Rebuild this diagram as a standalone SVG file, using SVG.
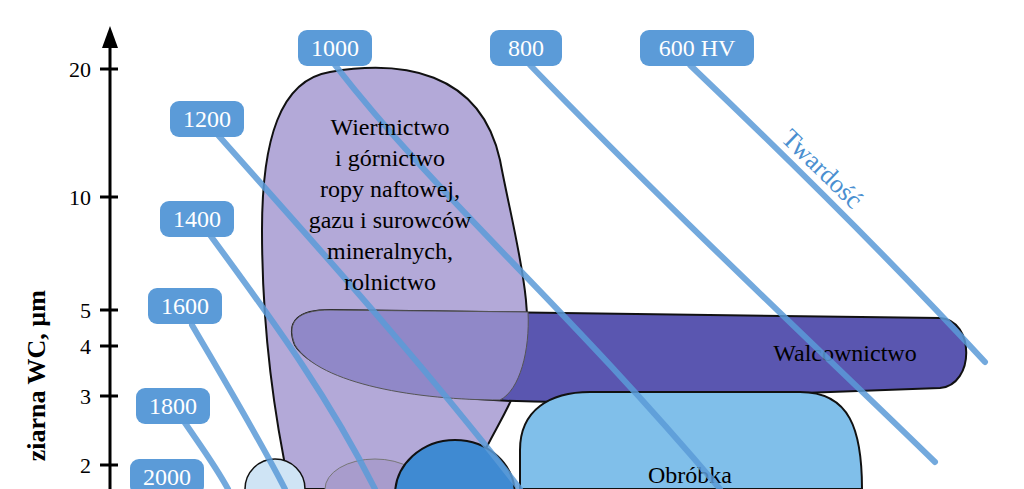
<svg xmlns="http://www.w3.org/2000/svg" width="1024" height="489" viewBox="0 0 1024 489">
<style>
.t{font-family:"Liberation Serif",serif;fill:#000}
.lab{font-family:"Liberation Serif",serif;fill:#fff;font-size:24px;text-anchor:middle}
.hv{fill:none;stroke:#5b9bd8;stroke-width:6;stroke-linecap:round}
.box{fill:#5b9bd8}
.ol{stroke:#111;stroke-width:2}
</style>
<rect width="1024" height="489" fill="#fff"/>
<g id="wiertnictwo">
<path class="ol" d="M330,72 C400,60 480,70 500,160 C515,240 540,320 520,380 C505,420 480,450 470,489 L290,489 C275,420 262,330 262,230 C262,140 280,80 330,72 Z" fill="#b3a9d8"/>
</g>
<g id="walcownictwo">
<path class="ol" d="M330,310 L940,318 C975,320 975,385 940,388 L560,402 C450,402 320,385 295,345 C285,320 300,310 330,310 Z" fill="#5a56b0"/>
<path d="M330,310 L528,312 C530,350 520,390 500,400 C420,400 320,385 295,345 C285,320 300,310 330,310 Z" fill="#9088c8" stroke="#555" stroke-width="1"/>
<text class="t" x="845" y="361" font-size="24" text-anchor="middle">Walcownictwo</text>
</g>
<g id="obrobka">
<path class="ol" d="M590,392 L800,392 C850,392 862,430 862,489 L520,489 L520,450 C520,410 550,392 590,392 Z" fill="#80bfea"/>
<text class="t" x="690" y="483" font-size="24" text-anchor="middle">Obróbka</text>
</g>
<g id="small">
<ellipse cx="275" cy="489" rx="30" ry="30" fill="#cfe4f5" stroke="#111" stroke-width="1.5"/>
<ellipse cx="375" cy="489" rx="50" ry="30" fill="#a89ccc" stroke="#777" stroke-width="1"/>
<ellipse cx="455" cy="495" rx="60" ry="55" fill="#3f8ad2" stroke="#111" stroke-width="2"/>
</g>
<g id="connectors" opacity="0.85">
<path class="hv" d="M690,65 C800,170 900,270 985,362"/>
<path class="hv" d="M530,65 C680,220 820,350 935,462"/>
<path class="hv" d="M335,65 C440,200 560,300 720,489"/>
<path class="hv" d="M218,135 C320,250 420,360 520,489"/>
<path class="hv" d="M210,235 C280,330 330,400 375,489"/>
<path class="hv" d="M192,325 C230,390 260,440 285,489"/>
<path class="hv" d="M183,420 C200,445 215,465 228,489"/>
<path class="hv" d="M160,485 L165,489"/>
</g>
<g id="labels">
<rect class="box" x="298" y="30" width="74" height="36" rx="9"/><text class="lab" x="335" y="56">1000</text>
<rect class="box" x="490" y="30" width="72" height="36" rx="9"/><text class="lab" x="526" y="56">800</text>
<rect class="box" x="640" y="30" width="114" height="36" rx="9"/><text class="lab" x="697" y="56">600 HV</text>
<rect class="box" x="170" y="101" width="74" height="36" rx="9"/><text class="lab" x="207" y="127">1200</text>
<rect class="box" x="160" y="201" width="74" height="36" rx="9"/><text class="lab" x="197" y="227">1400</text>
<rect class="box" x="148" y="288" width="74" height="36" rx="9"/><text class="lab" x="185" y="314">1600</text>
<rect class="box" x="136" y="388" width="74" height="36" rx="9"/><text class="lab" x="173" y="414">1800</text>
<rect class="box" x="130" y="459" width="74" height="36" rx="9"/><text class="lab" x="167" y="485">2000</text>
</g>
<text class="t" font-size="24" text-anchor="middle" x="390" y="135">Wiertnictwo</text>
<text class="t" font-size="24" text-anchor="middle" x="390" y="166">i górnictwo</text>
<text class="t" font-size="24" text-anchor="middle" x="390" y="197">ropy naftowej,</text>
<text class="t" font-size="24" text-anchor="middle" x="390" y="228">gazu i surowców</text>
<text class="t" font-size="24" text-anchor="middle" x="390" y="259">mineralnych,</text>
<text class="t" font-size="24" text-anchor="middle" x="390" y="290">rolnictwo</text>
<text font-family="Liberation Serif,serif" font-size="26" fill="#4a8fd0" transform="translate(780,140) rotate(44)">Twardość</text>
<g id="axis">
<line x1="110" y1="45" x2="110" y2="489" stroke="#000" stroke-width="3"/>
<polygon points="110,26 102,48 118,48" fill="#000"/>
<g stroke="#000" stroke-width="3">
<line x1="100" y1="69" x2="118" y2="69"/><line x1="100" y1="197" x2="118" y2="197"/>
<line x1="100" y1="310" x2="118" y2="310"/><line x1="100" y1="346" x2="118" y2="346"/>
<line x1="100" y1="396" x2="118" y2="396"/><line x1="100" y1="465" x2="118" y2="465"/>
</g>
<g class="t" font-size="22" text-anchor="end">
<text x="91" y="77">20</text><text x="91" y="205">10</text><text x="91" y="318">5</text>
<text x="91" y="354">4</text><text x="91" y="404">3</text><text x="91" y="473">2</text>
</g>
<text class="t" font-size="26" font-weight="bold" text-anchor="end" transform="translate(45,290) rotate(-90)">ziarna WC, µm</text>
</g>
</svg>
